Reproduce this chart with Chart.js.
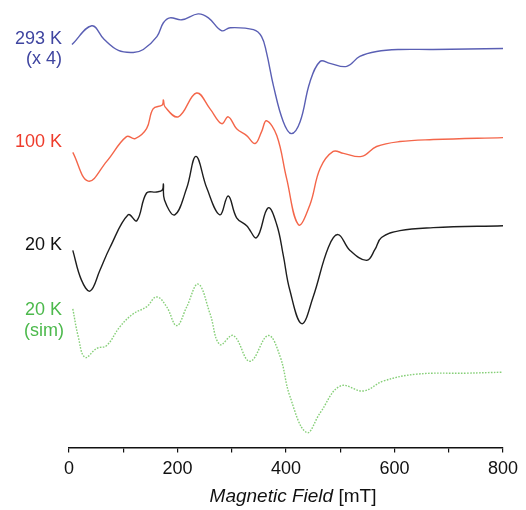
<!DOCTYPE html>
<html>
<head>
<meta charset="utf-8">
<script src="https://cdn.jsdelivr.net/npm/chart.js@4/dist/chart.umd.min.js"></script>
<style>
  html, body { margin: 0; padding: 0; background: #fff; }
  #wrap { width: 526px; height: 510px; }
</style>
</head>
<body>
<div id="wrap"><canvas id="epr"></canvas></div>
<script>
// --- EPR spectra, stacked (arbitrary units) ---
const xTicks = [0, 200, 400, 600, 800];

const field293 = [5.5, 42, 65, 91, 118.5, 137, 162, 174, 186, 208, 238, 257, 281, 297, 340, 355, 364, 377, 395, 410, 426, 444, 463, 481, 512, 536, 567, 610, 671, 800];
const int293   = [4, 23, 9, -2, -4, -1, 12, 26, 31, 29, 35, 31, 18, 21, 19, 12, -4, -38, -74, -86, -74, -34, -13, -15, -18, -8, -3, -1, -1, 0];

const field100 = [7, 35.5, 69.5, 106, 122, 143, 155, 172, 174, 177, 201.5, 235, 260, 281.5, 293.5, 309, 327.5, 343, 355, 364, 383, 401, 423, 444, 463, 487, 506, 539.5, 567, 610, 671.5, 800];
const int100   = [-15, -44, -24, 1, -1, 9, 29, 33, 38, 31, 21, 45, 29, 14, 21, 9, 2, -6, 6, 17, 2, -41, -88, -68, -31, -14, -16, -19, -9, -4, -2, 0];

const field20 = [7, 23, 39, 57, 75.5, 109, 125, 143, 161.5, 172, 174, 176, 195, 217, 234, 254, 278, 293.5, 309, 327.5, 346, 367, 383, 395, 407, 429, 450, 478, 496, 518, 549, 564, 576, 610, 671.5, 800];
const int20   = [-25, -55, -66, -45, -22, 11, 5, 33, 34, 36, 42, 26, 11, 38, 70, 38, 11, 30, 8, 0, -12, 18, 1, -30, -65, -99, -72, -22, -9, -25, -35, -24, -12, -5, -2, 0];

const fieldSim = [7, 17, 29.5, 51, 69.5, 94, 118.5, 143, 161.5, 180, 198.5, 217, 238, 260, 278, 303, 333.5, 367, 389, 407, 438, 463, 500, 542.5, 579.5, 641, 733, 800];
const intSim   = [64, 36, 15, 24, 27, 46, 59, 66, 76, 66, 47, 66, 89, 59, 28, 37, 11, 37, 16, -24, -61, -41, -14, -19, -9, -2, -1, 0];

// vertical offsets of each trace
const offsets = [403, 313, 224, 76];
const labels = [['293 K', '(x 4)'], ['100 K'], ['20 K'], ['20 K', '(sim)']];

function pts(xs, ys, off) {
    return xs.map((x, i) => ({ x: x, y: ys[i] + off }));
}

const trazas = [
    { data: pts(field293, int293, offsets[0]), color: '#5a5fb4', text: '#3f45a0', dash: [] },
    { data: pts(field100, int100, offsets[1]), color: '#f4664a', text: '#ee3b2b', dash: [] },
    { data: pts(field20, int20, offsets[2]), color: '#1e1e1e', text: '#111111', dash: [] },
    { data: pts(fieldSim, intSim, offsets[3]), color: '#86cf78', text: '#4cb94c', dash: [1.6, 1.4] }
];

// label placement relative to each trace offset (value units)
const labelDy = [[10, -11], [-4], [-20], [63, 42]];

const etiquetas = {
    id: 'etiquetas',
    afterDraw(chart) {
        const ctx = chart.ctx;
        const ys = chart.scales.y;
        const xs = chart.scales.x;
        ctx.save();
        ctx.font = '18px "Liberation Sans", Arial, sans-serif';
        ctx.textAlign = 'right';
        ctx.textBaseline = 'middle';
        labels.forEach((lines, k) => {
            ctx.fillStyle = trazas[k].text;
            lines.forEach((t, j) => {
                const px = (k === 3 && j === 1) ? 64 : 62;
                ctx.fillText(t, px, ys.getPixelForValue(offsets[k] + labelDy[k][j]));
            });
        });
        // axis title: italic "Magnetic Field" + " [mT]"
        const a = 'Magnetic Field';
        const b = ' [mT]';
        ctx.font = 'italic 19px "Liberation Sans", Arial, sans-serif';
        const wa = ctx.measureText(a).width;
        ctx.font = '19px "Liberation Sans", Arial, sans-serif';
        const wb = ctx.measureText(b).width;
        const cx = (xs.left + xs.right) / 2 + 7;
        const x0 = cx - (wa + wb) / 2;
        const y0 = 497;
        ctx.fillStyle = '#111';
        ctx.textAlign = 'left';
        ctx.font = 'italic 19px "Liberation Sans", Arial, sans-serif';
        ctx.fillText(a, x0, y0);
        ctx.font = '19px "Liberation Sans", Arial, sans-serif';
        ctx.fillText(b, x0 + wa, y0);
        ctx.restore();
    }
};

const ctx = document.getElementById('epr').getContext('2d');
new Chart(ctx, {
    type: 'line',
    data: {
        datasets: trazas.map(t => ({
            data: t.data,
            borderColor: t.color,
            borderWidth: 1.4,
            borderDash: t.dash,
            pointRadius: 0,
            fill: false,
            tension: 0.4
        }))
    },
    options: {
        responsive: true,
        maintainAspectRatio: false,
        animation: false,
        layout: { padding: { left: 69, right: 23, top: 0, bottom: 24 } },
        plugins: { legend: { display: false }, tooltip: { enabled: false } },
        scales: {
            x: {
                type: 'linear',
                min: 0,
                max: 800,
                afterBuildTicks: axis => {
                    const t = [];
                    for (let v = 0; v <= 800; v += 100) t.push({ value: v });
                    axis.ticks = t;
                },
                ticks: {
                    autoSkip: false,
                    maxRotation: 0,
                    padding: 6,
                    color: '#111',
                    font: { family: '"Liberation Sans", Arial, sans-serif', size: 18 },
                    callback: v => xTicks.includes(v) ? String(v) : ''
                },
                grid: { display: true, drawOnChartArea: false, drawTicks: true, tickLength: 5, color: '#111', lineWidth: 1.2 },
                border: { display: true, color: '#111', width: 1.5 }
            },
            y: {
                display: false,
                min: 0,
                max: 452
            }
        }
    },
    plugins: [etiquetas]
});
</script>
</body>
</html>
